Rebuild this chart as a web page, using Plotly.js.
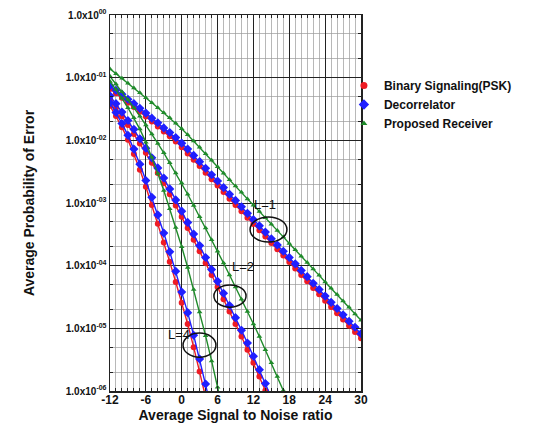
<!DOCTYPE html>
<html>
<head>
<meta charset="utf-8">
<script src="https://cdn.plot.ly/plotly-3.0.1.min.js"></script>
<style>html,body{margin:0;padding:0;background:#fff;}#chart{width:549px;height:430px;}</style>
</head>
<body>
<div id="chart"></div>
<script>
// SNR axis (dB)
const snrL1 = [-12,-11,-10,-9,-8,-7,-6,-5,-4,-3,-2,-1,0,1,2,3,4,5,6,7,8,9,10,11,12,13,14,15,16,17,18,19,20,21,22,23,24,25,26,27,28,29,30];
const snrL2 = [-12,-11,-10,-9,-8,-7,-6,-5,-4,-3,-2,-1,0,1,2,3,4,5,6,7,8,9,10,11,12,13,14,15,16,17,18];
const snrL4 = [-12,-11,-10,-9,-8,-7,-6,-5,-4,-3,-2,-1,0,1,2,3,4,5,6,7];

// L = 1
const pskL1 = [6.61e-2,5.62e-2,4.79e-2,3.98e-2,3.39e-2,2.85e-2,2.40e-2,2.00e-2,1.66e-2,1.38e-2,1.16e-2,9.55e-3,7.76e-3,6.17e-3,4.90e-3,3.89e-3,3.05e-3,2.40e-3,1.91e-3,1.50e-3,1.17e-3,9.33e-4,7.41e-4,5.82e-4,4.62e-4,3.67e-4,2.92e-4,2.29e-4,1.82e-4,1.45e-4,1.14e-4,9.02e-5,7.08e-5,5.62e-5,4.42e-5,3.51e-5,2.75e-5,2.19e-5,1.74e-5,1.38e-5,1.10e-5,8.71e-6,6.92e-6];
const decL1 = [7.41e-2,6.31e-2,5.43e-2,4.52e-2,3.85e-2,3.24e-2,2.72e-2,2.26e-2,1.91e-2,1.58e-2,1.33e-2,1.11e-2,9.02e-3,7.24e-3,5.75e-3,4.57e-3,3.59e-3,2.82e-3,2.24e-3,1.76e-3,1.38e-3,1.10e-3,8.71e-4,6.84e-4,5.43e-4,4.32e-4,3.43e-4,2.69e-4,2.14e-4,1.70e-4,1.35e-4,1.07e-4,8.41e-5,6.68e-5,5.25e-5,4.17e-5,3.27e-5,2.60e-5,2.07e-5,1.64e-5,1.30e-5,1.04e-5,8.22e-6];
const propL1 = [1.38e-1,1.16e-1,9.77e-2,8.13e-2,6.84e-2,5.75e-2,4.79e-2,3.98e-2,3.31e-2,2.75e-2,2.29e-2,1.88e-2,1.53e-2,1.23e-2,9.77e-3,7.76e-3,6.10e-3,4.79e-3,3.80e-3,2.99e-3,2.34e-3,1.86e-3,1.48e-3,1.16e-3,9.23e-4,7.33e-4,5.82e-4,4.57e-4,3.63e-4,2.88e-4,2.26e-4,1.80e-4,1.41e-4,1.12e-4,8.81e-5,7.00e-5,5.50e-5,4.37e-5,3.47e-5,2.72e-5,2.16e-5,1.70e-5,1.35e-5];

// L = 2
const pskL2 = [4.47e-2,3.31e-2,2.43e-2,1.76e-2,1.26e-2,8.91e-3,6.31e-3,4.37e-3,3.02e-3,2.09e-3,1.38e-3,9.12e-4,6.03e-4,3.98e-4,2.60e-4,1.70e-4,1.10e-4,7.08e-5,4.57e-5,2.92e-5,1.86e-5,1.17e-5,7.41e-6,4.57e-6,2.82e-6,1.70e-6,1.02e-6,6.17e-7];
const decL2 = [5.13e-2,3.85e-2,2.82e-2,2.07e-2,1.50e-2,1.06e-2,7.50e-3,5.25e-3,3.63e-3,2.51e-3,1.68e-3,1.12e-3,7.41e-4,4.90e-4,3.20e-4,2.09e-4,1.35e-4,8.71e-5,5.62e-5,3.63e-5,2.32e-5,1.48e-5,9.33e-6,5.82e-6,3.59e-6,2.19e-6,1.32e-6,7.94e-7,4.79e-7];
const propL2 = [1.05e-1,7.94e-2,5.96e-2,4.47e-2,3.31e-2,2.43e-2,1.76e-2,1.26e-2,8.91e-3,6.31e-3,4.37e-3,3.02e-3,2.09e-3,1.38e-3,9.12e-4,6.03e-4,3.98e-4,2.60e-4,1.70e-4,1.10e-4,7.08e-5,4.57e-5,2.92e-5,1.86e-5,1.17e-5,7.41e-6,4.57e-6,2.82e-6,1.70e-6,1.02e-6,6.17e-7];

// L = 4
const pskL4 = [3.55e-2,2.45e-2,1.62e-2,1.02e-2,6.03e-3,3.39e-3,1.82e-3,9.33e-4,4.68e-4,2.34e-4,1.15e-4,5.50e-5,2.57e-5,1.17e-5,5.01e-6,2.04e-6,8.13e-7,3.16e-7];
const decL4 = [3.98e-2,2.79e-2,1.86e-2,1.20e-2,7.24e-3,4.17e-3,2.29e-3,1.23e-3,6.46e-4,3.31e-4,1.66e-4,8.13e-5,3.80e-5,1.78e-5,7.76e-6,3.24e-6,1.29e-6,5.01e-7];
const propL4 = [8.71e-2,6.46e-2,4.68e-2,3.31e-2,2.29e-2,1.51e-2,9.33e-3,5.37e-3,2.95e-3,1.58e-3,8.13e-4,4.07e-4,2.00e-4,9.33e-5,4.17e-5,1.82e-5,7.59e-6,3.02e-6,1.15e-6,4.37e-7];

const seriesNames = ['Binary Signaling(PSK)', 'Decorrelator', 'Proposed Receiver'];
const xTickVals = [-12,-6,0,6,12,18,24,30];
const yTickVals = [1e-6,1e-5,1e-4,1e-3,1e-2,1e-1,1];
const yTickText = ['1.0x10<sup>-06</sup>','1.0x10<sup>-05</sup>','1.0x10<sup>-04</sup>','1.0x10<sup>-03</sup>','1.0x10<sup>-02</sup>','1.0x10<sup>-01</sup>','1.0x10<sup>00</sup>'];
const curveLabels = ['L=1','L=2','L=4'];

const RED = '#ee1c24', BLUE = '#1f1fff', GREEN = '#1f8a2a';
const style = [
  {color: RED, symbol: 'circle', size: 6},
  {color: BLUE, symbol: 'diamond', size: 7},
  {color: GREEN, symbol: 'triangle-up', size: 5}
];

function tr(x, y, k) {
  const s = style[k];
  return {
    x: x, y: y, type: 'scatter', mode: 'lines+markers',
    name: seriesNames[k], legendgroup: 'g' + k, showlegend: false,
    line: {color: s.color, width: 1.4},
    marker: {color: s.color, symbol: s.symbol, size: s.size}
  };
}
// legend-only entries (no data points)
function legendEntry(k) {
  const s = style[k];
  return {x: [null], y: [null], type: 'scatter', mode: 'markers', name: seriesNames[k],
          legendgroup: 'g' + k, showlegend: true,
          marker: {color: s.color, symbol: s.symbol, size: s.size + 1}};
}

const data = [
  tr(snrL1, pskL1, 0), tr(snrL1, decL1, 1), tr(snrL1, propL1, 2),
  tr(snrL2, pskL2, 0), tr(snrL2, decL2, 1), tr(snrL2, propL2, 2),
  tr(snrL4, pskL4, 0), tr(snrL4, decL4, 1), tr(snrL4, propL4, 2),
  legendEntry(0), legendEntry(1), legendEntry(2)
];

const FONT = 'Liberation Sans, Arial, sans-serif';

// ellipses and labels (paper coords)
const ell = [
  {x0: 0.558, x1: 0.705, y0: 0.396, y1: 0.463, lx: 0.668, ly: 0.497},
  {x0: 0.414, x1: 0.542, y0: 0.223, y1: 0.282, lx: 0.528, ly: 0.305},
  {x0: 0.291, x1: 0.422, y0: 0.090, y1: 0.154, lx: 0.222, ly: 0.124}
];

const layout = {
  width: 549, height: 430,
  margin: {l: 110, r: 188, t: 15, b: 39},
  paper_bgcolor: '#fff', plot_bgcolor: '#fff',
  font: {family: FONT, color: '#111', size: 12},
  showlegend: true,
  legend: {x: 0.932, y: 0.851, xanchor: 'left', yanchor: 'top',
           font: {family: FONT, size: 12, weight: 'bold', color: '#111'},
           bgcolor: 'rgba(0,0,0,0)', itemwidth: 30, tracegroupgap: 0},
  xaxis: {
    range: [-12, 30], tickvals: xTickVals, ticktext: xTickVals.map(String),
    tickfont: {size: 12, weight: 'bold'}, ticklabelstandoff: -3,
    showgrid: true, gridcolor: '#222', gridwidth: 1,
    minor: {dtick: 1, showgrid: true, gridcolor: '#9a9a9a', gridwidth: 0.7, ticks: 'inside', ticklen: 3, tickcolor: '#222'},
    ticks: 'inside', ticklen: 5, tickcolor: '#222',
    showline: true, linecolor: '#222', linewidth: 1.5, mirror: 'allticks',
    zeroline: false, automargin: false,
    title: {text: 'Average Signal to Noise ratio', font: {size: 14, weight: 'bold'}, standoff: 0}
  },
  yaxis: {
    type: 'log', range: [-6, 0],
    tickvals: yTickVals, ticktext: yTickText,
    tickfont: {size: 10, weight: 'bold'},
    showgrid: true, gridcolor: '#222', gridwidth: 1,
    minor: {showgrid: true, gridcolor: '#9a9a9a', gridwidth: 0.7, ticks: 'inside', ticklen: 3, tickcolor: '#222'},
    ticks: 'inside', ticklen: 5, tickcolor: '#222',
    showline: true, linecolor: '#222', linewidth: 1.5, mirror: 'allticks',
    zeroline: false, automargin: false,
    title: {text: 'Average Probability of Error', font: {size: 14, weight: 'bold'}, standoff: 28}
  },
  shapes: ell.map(e => ({type: 'circle', xref: 'paper', yref: 'paper', x0: e.x0, x1: e.x1, y0: e.y0, y1: e.y1,
                         line: {color: '#111', width: 1.5}})),
  annotations: ell.map((e, i) => ({xref: 'paper', yref: 'paper', x: e.lx, y: e.ly, text: curveLabels[i],
                         showarrow: false, font: {family: FONT, size: 13, color: '#111'}}))
};

Plotly.newPlot('chart', data, layout, {displayModeBar: false, staticPlot: true});
</script>
</body>
</html>
